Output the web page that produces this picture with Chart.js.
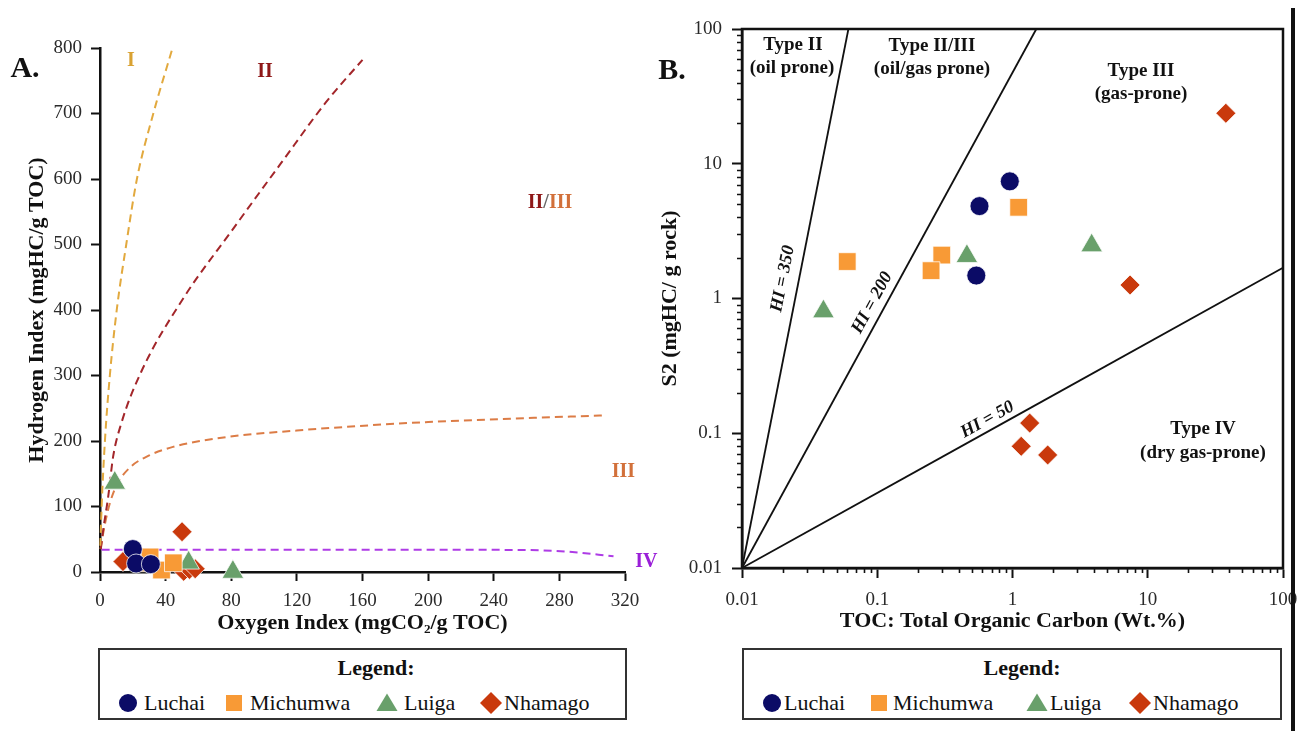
<!DOCTYPE html>
<html>
<head>
<meta charset="utf-8">
<title>Kerogen typing: HI–OI and S2–TOC plots</title>
<script src="https://cdn.jsdelivr.net/npm/chart.js@4.4.1/dist/chart.umd.min.js"></script>
<style>
  html, body { margin: 0; padding: 0; background: #fff; }
  body { width: 1301px; height: 731px; position: relative; overflow: hidden;
         font-family: "Liberation Serif", "Times New Roman", serif; }
  .wrap { position: absolute; }
  .legend { position: absolute; border: 2px solid #333; box-sizing: border-box; background: #fff; }
  .legend .ttl { position: absolute; font-weight: bold; font-size: 22px; color: #111;
                 transform: translate(-50%, -50%); white-space: nowrap; }
  .legend .txt { position: absolute; font-size: 22px; color: #111; white-space: nowrap;
                 transform: translateY(-50%); }
  .legend svg { position: absolute; overflow: visible; }
  .edge { position: absolute; left: 1291px; top: 8px; width: 4px; height: 723px; background: #111; }
</style>
</head>
<body>
<div class="wrap" style="left:0;top:0;width:660px;height:640px"><canvas id="chartA"></canvas></div>
<div class="wrap" style="left:650px;top:0;width:651px;height:640px"><canvas id="chartB"></canvas></div>
<div class="legend" id="legendA" style="left:98px;top:648px;width:529px;height:72px"></div>
<div class="legend" id="legendB" style="left:742px;top:648px;width:540px;height:72px"></div>
<div class="edge"></div>

<script>
// ---------- data ----------
const groups = ['Luchai', 'Michumwa', 'Luiga', 'Nhamago'];

// A. Hydrogen Index vs Oxygen Index
const luchaiOI   = [20, 22, 31];
const luchaiHI   = [35, 13, 12];
const michumwaOI = [26, 30.5, 37.5, 44.7];
const michumwaHI = [14, 23, 3, 14];
const luigaOI    = [9, 54, 81];
const luigaHI    = [136, 14, 0];
const nhamagoOI  = [14, 50, 51, 54.5, 58];
const nhamagoHI  = [16, 61.5, 1, 4, 5];

// A. kerogen type boundary curves
const typeI_OI   = [0.2, 1, 3, 6, 10.2, 16, 22.5, 32.5, 44.2];
const typeI_HI   = [40, 100, 200, 300, 400, 500, 600, 700, 800];
const typeII_OI  = [0.5, 2, 5, 8, 13, 25, 50.8, 80, 110, 138, 160];
const typeII_HI  = [35, 65, 115, 176, 227, 305, 418, 520, 623, 718, 782];
const typeIII_OI = [0.3, 2, 4, 6, 10, 18, 30, 44.5, 77, 120, 158.5, 200, 250, 306];
const typeIII_HI = [35, 60, 85, 105, 132, 159, 178, 191, 206, 216, 223, 229, 234, 239];
const typeIV_OI  = [1, 100, 200, 260, 285, 313];
const typeIV_HI  = [34, 34, 34, 33.5, 31, 24];

const oiTicks = [0, 40, 80, 120, 160, 200, 240, 280, 320];
const hiTicks = [0, 100, 200, 300, 400, 500, 600, 700, 800];

// B. S2 vs TOC
const luchaiTOC   = [0.955, 0.57, 0.54];
const luchaiS2    = [7.4, 4.85, 1.48];
const michumwaTOC = [1.11, 0.06, 0.30, 0.25];
const michumwaS2  = [4.75, 1.88, 2.1, 1.61];
const luigaTOC    = [0.04, 0.46, 3.85];
const luigaS2     = [0.80, 2.06, 2.47];
const nhamagoTOC  = [37.8, 7.4, 1.34, 1.16, 1.82];
const nhamagoS2   = [23.7, 1.26, 0.119, 0.08, 0.069];

// B. HI reference lines
const hi350TOC = [0.01, 0.0612];
const hi350S2  = [0.01, 100];
const hi200TOC = [0.01, 1.5];
const hi200S2  = [0.01, 100];
const hi50TOC  = [0.01, 100];
const hi50S2   = [0.01, 1.69];

const decadeTicks = [0.01, 0.1, 1, 10, 100];
const tocTickLabels = ['0.01', '0.1', '1', '10', '100'];
const s2TickLabels  = ['0.01', '0.1', '1', '10', '100'];

// ---------- styling ----------
const SERIF = '"Liberation Serif", "Times New Roman", serif';
const markers = {
  Luchai:   { style: 'circle',  radius: 9.5,  color: '#0b0b66' },
  Michumwa: { style: 'rect',    radius: 12.5, color: '#f89a36' },
  Luiga:    { style: 'triangle',radius: 12.5, color: '#69a06b' },
  Nhamago:  { style: 'rectRot', radius: 10,   color: '#c9390c' }
};

const pts = (xs, ys) => xs.map((x, i) => ({ x, y: ys[i] }));

function groupDataset(name, xs, ys) {
  const m = markers[name];
  return {
    label: name, data: pts(xs, ys),
    pointStyle: m.style, pointRadius: m.radius, pointHoverRadius: m.radius,
    backgroundColor: m.color, borderColor: 'rgba(255,255,255,0.75)', borderWidth: 1,
    showLine: false, clip: false, order: 1
  };
}
function curveDataset(label, xs, ys, color, dash) {
  return {
    label, data: pts(xs, ys), showLine: true, pointRadius: 0, pointHoverRadius: 0,
    borderColor: color, borderWidth: dash ? 2 : 1.8, borderDash: dash || [],
    cubicInterpolationMode: 'monotone', fill: false, clip: false, order: 10
  };
}

const tickFont = { family: SERIF, size: 19 };
const titleFont = { family: SERIF, size: 22, weight: 'bold' };
const INK = '#111';

// fixed axis band sizes; label overhang is absorbed by the layout padding
const fixHeight = h => s => { s.height = h; s.paddingLeft = 0; s.paddingRight = 0; };
const fixWidth = w => s => { s.width = w; s.paddingTop = 0; s.paddingBottom = 0; };

// ---------- panel A ----------
const zoneLabelsA = [
  { parts: [['I', '#d9a232']], x: 18.9, y: 780 },
  { parts: [['II', '#8e1717']], x: 100.6, y: 763 },
  { parts: [['II', '#8e1717'], ['/', '#666'], ['III', '#d2703a']], x: 274.3, y: 563 },
  { parts: [['III', '#d2703a']], x: 319, y: 152.7 },
  { parts: [['IV', '#9a1fd8']], x: 333, y: 15.3 }
];

const annotateA = {
  id: 'annotateA',
  afterDraw(chart) {
    const { ctx, scales: { x, y } } = chart;
    ctx.save();
    ctx.textBaseline = 'middle';
    ctx.textAlign = 'left';
    ctx.font = `bold 20px ${SERIF}`;
    for (const z of zoneLabelsA) {
      const total = z.parts.reduce((s, p) => s + ctx.measureText(p[0]).width, 0);
      let px = x.getPixelForValue(z.x) - total / 2;
      const py = y.getPixelForValue(z.y);
      for (const [t, c] of z.parts) {
        ctx.fillStyle = c;
        ctx.fillText(t, px, py);
        px += ctx.measureText(t).width;
      }
    }
    ctx.fillStyle = INK;
    ctx.textAlign = 'center';
    ctx.font = `bold 30px ${SERIF}`;
    ctx.fillText('A.', 25, 69);
    ctx.restore();
  }
};

new Chart(document.getElementById('chartA'), {
  type: 'scatter',
  data: {
    datasets: [
      groupDataset('Luchai', luchaiOI, luchaiHI),
      groupDataset('Michumwa', michumwaOI, michumwaHI),
      groupDataset('Luiga', luigaOI, luigaHI),
      groupDataset('Nhamago', nhamagoOI, nhamagoHI),
      curveDataset('I', typeI_OI, typeI_HI, '#e2a93e', [8, 5]),
      curveDataset('II', typeII_OI, typeII_HI, '#a3262a', [8, 5]),
      curveDataset('III', typeIII_OI, typeIII_HI, '#dc7c46', [8, 5]),
      curveDataset('IV', typeIV_OI, typeIV_HI, '#ae3ce6', [8, 5])
    ]
  },
  options: {
    responsive: true, maintainAspectRatio: false, animation: false,
    layout: { padding: { left: 0, top: 48, right: 35, bottom: 3 } },
    plugins: { legend: { display: false }, tooltip: { enabled: false } },
    scales: {
      x: {
        type: 'linear', min: 0, max: 320,
        afterBuildTicks: s => { s.ticks = oiTicks.map(v => ({ value: v })); },
        afterFit: fixHeight(65),
        ticks: { font: tickFont, color: '#2a2a2a', padding: 9, maxRotation: 0, autoSkip: false },
        grid: { drawOnChartArea: false, drawTicks: true, tickLength: 9, tickColor: INK, tickWidth: 2 },
        border: { color: INK, width: 2.5 },
        title: { display: true, text: 'Oxygen Index (mgCO₂/g TOC)', font: titleFont, color: INK,
                 padding: { top: 0, bottom: 0 } }
      },
      y: {
        type: 'linear', min: 0, max: 800,
        afterBuildTicks: s => { s.ticks = hiTicks.map(v => ({ value: v })); },
        afterFit: fixWidth(100),
        ticks: { font: tickFont, color: '#2a2a2a', padding: 9, autoSkip: false },
        grid: { drawOnChartArea: false, drawTicks: true, tickLength: 9, tickColor: INK, tickWidth: 2 },
        border: { color: INK, width: 2.5 },
        title: { display: true, text: 'Hydrogen Index (mgHC/g TOC)', font: titleFont, color: INK,
                 padding: { top: 24, bottom: 0 } }
      }
    }
  },
  plugins: [annotateA]
});

// ---------- panel B ----------
const zoneLabelsB = [
  { text: 'Type II', x: 0.0238, y: 76.1 },
  { text: '(oil prone)', x: 0.0234, y: 51.4 },
  { text: 'Type II/III', x: 0.254, y: 74.8 },
  { text: '(oil/gas prone)', x: 0.254, y: 50.5 },
  { text: 'Type III', x: 8.91, y: 48.8 },
  { text: '(gas-prone)', x: 8.91, y: 32.9 },
  { text: 'Type IV', x: 25.6, y: 0.1076 },
  { text: '(dry gas-prone)', x: 25.6, y: 0.0714 }
];
const hiLineLabels = [
  { text: 'HI = 350', toc: hi350TOC, s2: hi350S2, x: 0.0201, y: 1.40 },
  { text: 'HI = 200', toc: hi200TOC, s2: hi200S2, x: 0.0918, y: 0.928 },
  { text: 'HI = 50',  toc: hi50TOC,  s2: hi50S2,  x: 0.653,  y: 0.126 }
];

const annotateB = {
  id: 'annotateB',
  afterDraw(chart) {
    const { ctx, chartArea: ca, scales: { x, y } } = chart;
    ctx.save();
    // minor log ticks
    ctx.strokeStyle = INK;
    ctx.lineWidth = 1.6;
    ctx.beginPath();
    for (let e = -2; e < 2; e++) {
      for (let m = 2; m < 10; m++) {
        const v = m * Math.pow(10, e);
        const px = Math.round(x.getPixelForValue(v)) + 0.5;
        ctx.moveTo(px, ca.bottom); ctx.lineTo(px, ca.bottom + 5);
        const py = Math.round(y.getPixelForValue(v)) + 0.5;
        ctx.moveTo(ca.left, py); ctx.lineTo(ca.left - 5, py);
      }
    }
    ctx.stroke();
    // frame
    ctx.lineWidth = 2.5;
    ctx.strokeRect(ca.left, ca.top, ca.right - ca.left, ca.bottom - ca.top);
    // zone captions
    ctx.fillStyle = INK;
    ctx.textAlign = 'center';
    ctx.textBaseline = 'middle';
    ctx.font = `bold 19px ${SERIF}`;
    for (const z of zoneLabelsB) {
      ctx.fillText(z.text, x.getPixelForValue(z.x), y.getPixelForValue(z.y));
    }
    // HI line captions, aligned with their lines
    ctx.font = `italic bold 18px ${SERIF}`;
    for (const l of hiLineLabels) {
      const x0 = x.getPixelForValue(l.toc[0]), y0 = y.getPixelForValue(l.s2[0]);
      const x1 = x.getPixelForValue(l.toc[1]), y1 = y.getPixelForValue(l.s2[1]);
      const ang = Math.atan2(y1 - y0, x1 - x0);
      ctx.save();
      ctx.translate(x.getPixelForValue(l.x), y.getPixelForValue(l.y));
      ctx.rotate(ang);
      ctx.fillText(l.text, 0, 0);
      ctx.restore();
    }
    ctx.font = `bold 30px ${SERIF}`;
    ctx.fillText('B.', 22, 71);
    ctx.restore();
  }
};

const logScale = (labels, afterFit, padding, titleText, titlePad) => ({
  type: 'logarithmic', min: 0.01, max: 100,
  afterBuildTicks: s => { s.ticks = decadeTicks.map(v => ({ value: v, major: true })); },
  afterFit,
  ticks: { font: tickFont, color: '#2a2a2a', padding, autoSkip: false, maxRotation: 0,
           callback: (v, i) => labels[i] },
  grid: { drawOnChartArea: false, drawTicks: true, tickLength: 10, tickColor: INK, tickWidth: 2 },
  border: { color: INK, width: 2.5 },
  title: { display: true, text: titleText, font: titleFont, color: INK, padding: titlePad }
});

new Chart(document.getElementById('chartB'), {
  type: 'scatter',
  data: {
    datasets: [
      groupDataset('Luchai', luchaiTOC, luchaiS2),
      groupDataset('Michumwa', michumwaTOC, michumwaS2),
      groupDataset('Luiga', luigaTOC, luigaS2),
      groupDataset('Nhamago', nhamagoTOC, nhamagoS2),
      curveDataset('HI = 350', hi350TOC, hi350S2, INK),
      curveDataset('HI = 200', hi200TOC, hi200S2, INK),
      curveDataset('HI = 50', hi50TOC, hi50S2, INK)
    ]
  },
  options: {
    responsive: true, maintainAspectRatio: false, animation: false,
    layout: { padding: { left: 0, top: 29, right: 18, bottom: 5 } },
    plugins: { legend: { display: false }, tooltip: { enabled: false } },
    scales: {
      x: logScale(tocTickLabels, fixHeight(67), 11,
                  'TOC: Total Organic Carbon (Wt.%)', { top: 0, bottom: 0 }),
      y: logScale(s2TickLabels, fixWidth(92), 10,
                  'S2 (mgHC/ g rock)', { top: 7, bottom: 0 })
    }
  },
  plugins: [annotateB]
});

// ---------- legends ----------
const legendAPos = [[128, 144], [234, 250], [387, 404], [491, 504]];
const legendBPos = [[772, 784], [879, 893], [1037, 1050], [1140, 1153]];

function markerSVG(name, cx, cy) {
  const c = markers[name].color;
  let shape;
  if (name === 'Luchai') shape = `<circle cx="11" cy="11" r="9" fill="${c}"/>`;
  else if (name === 'Michumwa') shape = `<rect x="3" y="3" width="16" height="16" fill="${c}"/>`;
  else if (name === 'Luiga') shape = `<polygon points="11,1.5 21.5,19 0.5,19" fill="${c}"/>`;
  else shape = `<polygon points="11,0 22,11 11,22 0,11" fill="${c}"/>`;
  return `<svg width="22" height="22" style="left:${cx - 11}px;top:${cy - 11}px">${shape}</svg>`;
}

function buildLegend(id, boxLeft, titleX, positions) {
  const el = document.getElementById(id);
  const inner = boxLeft + 2;
  let html = `<div class="ttl" style="left:${titleX - inner}px;top:18px">Legend:</div>`;
  groups.forEach((g, i) => {
    const [mx, tx] = positions[i];
    html += markerSVG(g, mx - inner, 53);
    html += `<div class="txt" style="left:${tx - inner}px;top:53px">${g}</div>`;
  });
  el.innerHTML = html;
}
buildLegend('legendA', 98, 376, legendAPos);
buildLegend('legendB', 742, 1022, legendBPos);
</script>
</body>
</html>
